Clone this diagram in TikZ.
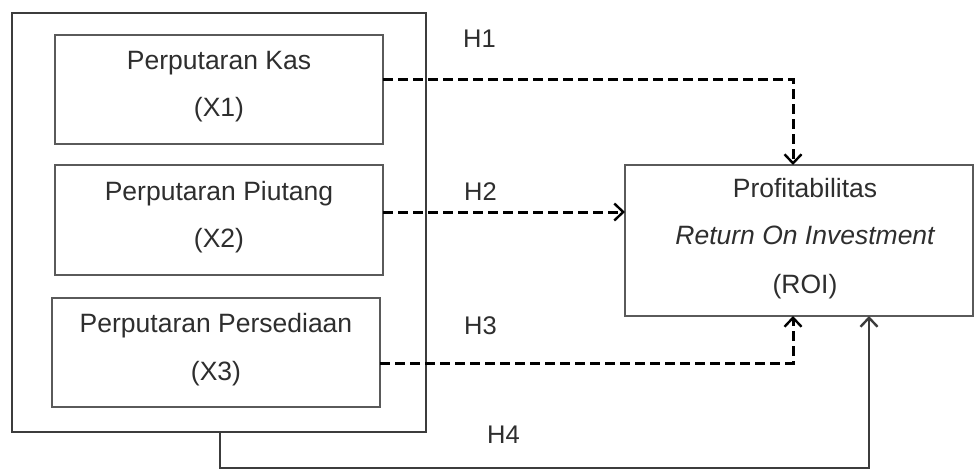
\documentclass[tikz,border=0pt]{standalone}
\usepackage{fontspec}
\setmainfont{Liberation Sans}
\usetikzlibrary{arrows.meta,calc}
\definecolor{boxgray}{HTML}{5A5A5A}
\definecolor{outergray}{HTML}{3C3C3C}
\definecolor{txtgray}{HTML}{2E2E2E}
\begin{document}
\begin{tikzpicture}[x=1pt,y=-1pt,
  rbox/.style={draw=boxgray,line width=2pt,inner sep=0pt,outer sep=0pt,fill=white},
  obox/.style={draw=outergray,line width=2.2pt,inner sep=0pt,outer sep=0pt},
  txt/.style={text=txtgray,font=\fontsize{26.5}{30}\selectfont,anchor=base,inner sep=0pt},
  hyp/.style={text=txtgray,font=\fontsize{25.5}{30}\selectfont,anchor=base west,inner sep=0pt},
  dline/.style={draw=black,line width=3pt,dash pattern=on 10pt off 5pt},
  sline/.style={draw=outergray,line width=2pt},
  vtip/.style={-{Straight Barb[length=9pt,width=17pt,line width=2.4pt]}}
]
\useasboundingbox[fill=white] (0,0) rectangle (976,471);

% outer box
\node[obox,minimum width=414pt,minimum height=419pt] (outer) at (219,222.5) {};
% inner boxes
\node[rbox,minimum width=328pt,minimum height=109pt] (b1) at (219,89.5) {};
\node[rbox,minimum width=328pt,minimum height=110pt] (b2) at (219,220) {};
\node[rbox,minimum width=328pt,minimum height=109pt] (b3) at (216,352.5) {};
% ROI box
\node[rbox,minimum width=348pt,minimum height=151pt] (roi) at (799,240.5) {};

% box texts
\node[txt] (t1a) at (219,69) {Perputaran Kas};
\node[txt] (t1b) at (219,116) {(X1)};
\node[txt] (t2a) at (219,200) {Perputaran Piutang};
\node[txt] (t2b) at (219,247) {(X2)};
\node[txt] (t3a) at (216,332) {Perputaran Persediaan};
\node[txt] (t3b) at (216,380) {(X3)};
\node[txt] (r1) at (805,197) {Profitabilitas};
\node[txt] (r2) at (805,244) {\itshape Return On Investment};
\node[txt] (r3) at (805,293) {(ROI)};

% hypothesis labels
\node[hyp] (h1) at (463,47) {H1};
\node[hyp] (h2) at (464,200) {H2};
\node[hyp] (h3) at (464,334) {H3};
\node[hyp] (h4) at (487,443) {H4};

% connectors
\coordinate (c1) at (793,79);
\coordinate (c3) at (793,363);
\coordinate (c4a) at (220,468);
\coordinate (c4b) at (869,468);

\draw[dline,vtip] ($(b1.east)+(0,-10.5)$) -- (c1) -- (c1 |- roi.north);
\draw[dline,vtip] ($(b2.east)+(0,-8)$) -- ($(roi.west)+(0,-28.5)$);
\draw[dline,vtip] ($(b3.east)+(0,10.5)$) -- (c3) -- (c3 |- roi.south);
\draw[sline,vtip] (outer.south -| c4a) -- (c4a) -- (c4b) -- (c4b |- roi.south);
\end{tikzpicture}
\end{document}
